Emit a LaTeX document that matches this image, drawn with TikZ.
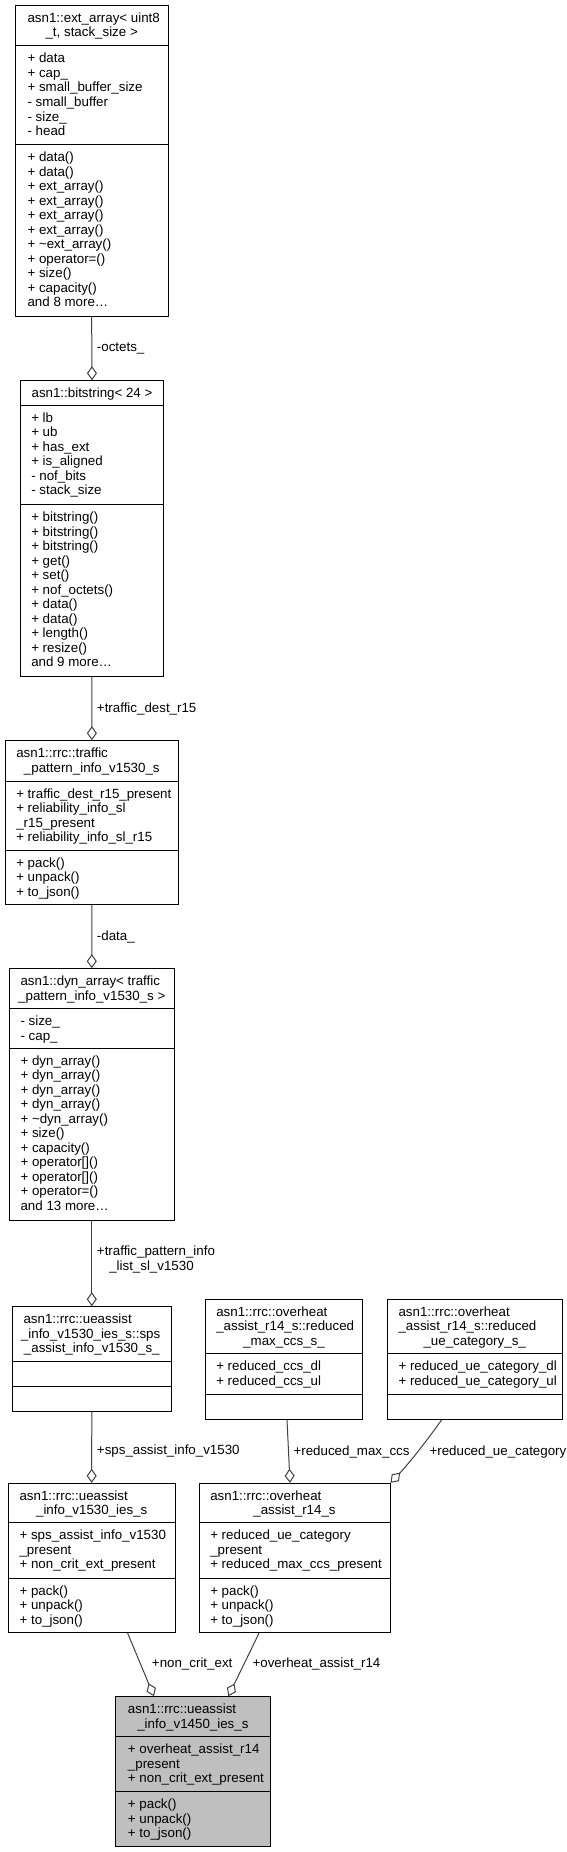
\documentclass[tikz,border=0pt]{standalone}
\usepackage{fontspec}
\setmainfont{Liberation Sans}
\usepackage{tikz}
\usetikzlibrary{calc, fit, arrows.meta}
\definecolor{edgegray}{RGB}{64,64,64}
\definecolor{maingray}{RGB}{191,191,191}

\begin{document}
\begin{tikzpicture}[x=0.75pt, y=-0.75pt,
  cls/.style={draw=black, line width=0.75pt, fill=white, inner sep=0pt},
  txt/.style={anchor=base west, inner sep=0pt, font=\fontsize{10}{12}\selectfont},
  ttl/.style={anchor=base, inner sep=0pt, font=\fontsize{10}{12}\selectfont},
  edge/.style={draw=edgegray, line width=0.75pt, -{Diamond[open, length=10.5pt, width=7.5pt]}}]
\useasboundingbox (0, 0) rectangle (567, 1852);
% class boxes
\node [cls, fit={(15.3, 5.3) (168, 316)}] (ext) {};
\node [cls, fit={(20.7, 380.7) (163.3, 676)}] (bits) {};
\node [cls, fit={(5, 740.7) (178.7, 904.3)}] (traf) {};
\node [cls, fit={(9.3, 968.7) (174.3, 1220)}] (dyn) {};
\node [cls, fit={(12.3, 1306.7) (171.3, 1411.7)}] (sps) {};
\node [cls, fit={(205.3, 1299.3) (362.7, 1419.3)}] (redmax) {};
\node [cls, fit={(387.3, 1299.3) (562, 1419.3)}] (redue) {};
\node [cls, fit={(8.3, 1483.3) (175, 1632.7)}] (v1530) {};
\node [cls, fit={(199, 1483.3) (390, 1632.7)}] (ovh) {};
\node [cls, fill=maingray, fit={(115.7, 1696.7) (270, 1846)}] (main) {};
% separators
\foreach \b/\ya/\yb in {ext/46/144.7, bits/405.3/504.7, traf/781/850, dyn/1008.7/1048.3,
    sps/1361/1386.7, redmax/1353.7/1394, redue/1353.7/1394,
    v1530/1522.7/1578, ovh/1522.7/1578, main/1736.7/1791.7}
{
  \draw [line width=0.75pt] (\b.west |- 0,\ya) -- (\b.east |- 0,\ya);
  \draw [line width=0.75pt] (\b.west |- 0,\yb) -- (\b.east |- 0,\yb);
}
% titles
\node [txt] (ext-t1) at (27.3, 22.3) {asn1::ext\_array< uint8};
\node [ttl] (ext-t2) at (91.7, 36.8) {\_t, stack\_size >};
\node [ttl] (bits-t1) at (92, 397.7) {asn1::bitstring< 24 >};
\node [txt] (traf-t1) at (16, 757.7) {asn1::rrc::traffic};
\node [ttl] (traf-t2) at (91.8, 772.2) {\_pattern\_info\_v1530\_s};
\node [txt] (dyn-t1) at (20.3, 985.7) {asn1::dyn\_array< traffic};
\node [ttl] (dyn-t2) at (91.8, 1000.2) {\_pattern\_info\_v1530\_s >};
\node [txt] (sps-t1) at (23.3, 1323.7) {asn1::rrc::ueassist};
\node [txt] (sps-t2) at (20.7, 1338.2) {\_info\_v1530\_ies\_s::sps};
\node [ttl] (sps-t3) at (91.8, 1352.7) {\_assist\_info\_v1530\_s\_};
\node [txt] (redmax-t1) at (216, 1316.3) {asn1::rrc::overheat};
\node [txt] (redmax-t2) at (216, 1330.8) {\_assist\_r14\_s::reduced};
\node [ttl] (redmax-t3) at (284, 1345.3) {\_max\_ccs\_s\_};
\node [txt] (redue-t1) at (398.3, 1316.3) {asn1::rrc::overheat};
\node [txt] (redue-t2) at (398.3, 1330.8) {\_assist\_r14\_s::reduced};
\node [ttl] (redue-t3) at (474.7, 1345.3) {\_ue\_category\_s\_};
\node [txt] (v1530-t1) at (19.3, 1500.3) {asn1::rrc::ueassist};
\node [ttl] (v1530-t2) at (91.7, 1514.8) {\_info\_v1530\_ies\_s};
\node [txt] (ovh-t1) at (210, 1500.3) {asn1::rrc::overheat};
\node [ttl] (ovh-t2) at (294.5, 1514.8) {\_assist\_r14\_s};
\node [txt] (main-t1) at (127.7, 1713.7) {asn1::rrc::ueassist};
\node [ttl] (main-t2) at (192.9, 1728.2) {\_info\_v1450\_ies\_s};
% members
\foreach \s [count=\i from 0] in {+ data, + cap\_, + small\_buffer\_size, - small\_buffer, - size\_, - head}
  \node [txt] (ext-a\i) at (27.3, {63+14.5*\i}) {\s};
\foreach \s [count=\i from 0] in {+ data(), + data(), + ext\_array(), + ext\_array(), + ext\_array(),
    + ext\_array(), + \textasciitilde ext\_array(), + operator=(), + size(), + capacity(), {and 8 more\ldots}}
  \node [txt] (ext-m\i) at (27.3, {161.7+14.5*\i}) {\s};
\foreach \s [count=\i from 0] in {+ lb, + ub, + has\_ext, + is\_aligned, - nof\_bits, - stack\_size}
  \node [txt] (bits-a\i) at (31, {422.3+14.5*\i}) {\s};
\foreach \s [count=\i from 0] in {+ bitstring(), + bitstring(), + bitstring(), + get(), + set(),
    + nof\_octets(), + data(), + data(), + length(), + resize(), {and 9 more\ldots}}
  \node [txt] (bits-m\i) at (31, {521.7+14.5*\i}) {\s};
\foreach \s [count=\i from 0] in {+ traffic\_dest\_r15\_present, + reliability\_info\_sl,
    \_r15\_present, + reliability\_info\_sl\_r15}
  \node [txt] (traf-a\i) at (16, {798+14.5*\i}) {\s};
\foreach \s [count=\i from 0] in {+ pack(), + unpack(), + to\_json()}
  \node [txt] (traf-m\i) at (16, {867+14.5*\i}) {\s};
\foreach \s [count=\i from 0] in {- size\_, - cap\_}
  \node [txt] (dyn-a\i) at (20.3, {1025.7+14.5*\i}) {\s};
\foreach \s [count=\i from 0] in {+ dyn\_array(), + dyn\_array(), + dyn\_array(), + dyn\_array(),
    + \textasciitilde dyn\_array(), + size(), + capacity(), + operator[](), + operator[](),
    + operator=(), {and 13 more\ldots}}
  \node [txt] (dyn-m\i) at (20.3, {1065.3+14.5*\i}) {\s};
\foreach \s [count=\i from 0] in {+ reduced\_ccs\_dl, + reduced\_ccs\_ul}
  \node [txt] (redmax-a\i) at (216, {1370.7+14.5*\i}) {\s};
\foreach \s [count=\i from 0] in {+ reduced\_ue\_category\_dl, + reduced\_ue\_category\_ul}
  \node [txt] (redue-a\i) at (398.3, {1370.7+14.5*\i}) {\s};
\foreach \s [count=\i from 0] in {+ sps\_assist\_info\_v1530, \_present, + non\_crit\_ext\_present}
  \node [txt] (v1530-a\i) at (19.3, {1539.7+14.5*\i}) {\s};
\foreach \s [count=\i from 0] in {+ pack(), + unpack(), + to\_json()}
  \node [txt] (v1530-m\i) at (19.3, {1595+14.5*\i}) {\s};
\foreach \s [count=\i from 0] in {+ reduced\_ue\_category, \_present, + reduced\_max\_ccs\_present}
  \node [txt] (ovh-a\i) at (210, {1539.7+14.5*\i}) {\s};
\foreach \s [count=\i from 0] in {+ pack(), + unpack(), + to\_json()}
  \node [txt] (ovh-m\i) at (210, {1595+14.5*\i}) {\s};
\foreach \s [count=\i from 0] in {+ overheat\_assist\_r14, \_present, + non\_crit\_ext\_present}
  \node [txt] (main-a\i) at (127.7, {1753.7+14.5*\i}) {\s};
\foreach \s [count=\i from 0] in {+ pack(), + unpack(), + to\_json()}
  \node [txt] (main-m\i) at (127.7, {1808.7+14.5*\i}) {\s};
% connectors
\draw [edge] (ext.south) -- (bits.north);
\draw [edge] (bits.south) -- (traf.north);
\draw [edge] (traf.south) -- (dyn.north);
\draw [edge] (dyn.south) -- (sps.north);
\draw [edge] (sps.south) -- (v1530.north);
\draw [edge] ($(redmax.south)+(3, 0)$) -- ($(ovh.north)+(-4.5, 0)$);
\draw [edge] ($(redue.south)+(-33, 0)$) .. controls ($(redue.south)+(-45, 17)$) and ($(ovh.north east)+(20, -21)$) .. (ovh.north east);
\draw [edge] ($(v1530.south)+(36, 0)$) -- ($(main.north)+(-38.9, 0)$);
\draw [edge] ($(ovh.south)+(-35.5, 0)$) -- ($(main.north)+(35.5, 0)$);
% connector labels
\node [txt] (l-octets) at (96.7, 351.7) {-octets\_};
\node [txt] (l-dest) at (96.7, 712.3) {+traffic\_dest\_r15};
\node [txt] (l-data) at (96.7, 940.7) {-data\_};
\node [txt] (l-list1) at (96.7, 1255.7) {+traffic\_pattern\_info};
\node [ttl] (l-list2) at (151.5, 1270.7) {\_list\_sl\_v1530};
\node [txt] (l-sps) at (96.7, 1454.3) {+sps\_assist\_info\_v1530};
\node [txt] (l-redmax) at (293.3, 1455.3) {+reduced\_max\_ccs};
\node [txt] (l-redue) at (429.3, 1455.3) {+reduced\_ue\_category};
\node [txt] (l-nce) at (151.7, 1667.3) {+non\_crit\_ext};
\node [txt] (l-ovh) at (252.3, 1667.3) {+overheat\_assist\_r14};
\end{tikzpicture}
\end{document}
